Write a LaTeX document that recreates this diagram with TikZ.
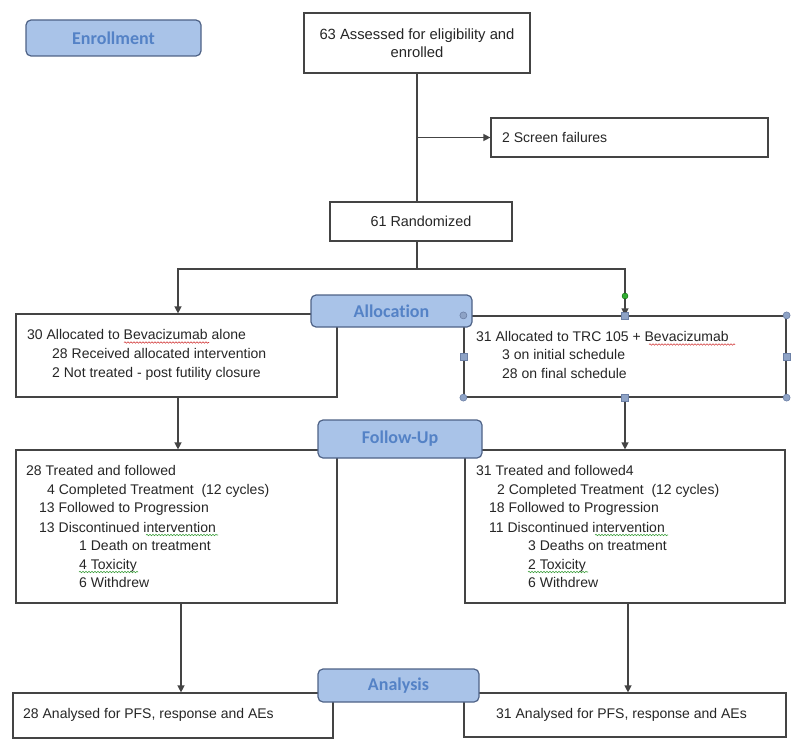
\documentclass[tikz,border=0pt]{standalone}
\usepackage{fontspec}
\setmainfont{Liberation Sans}
\newfontfamily\hdrfont[Ligatures=NoCommon]{Carlito}
\usetikzlibrary{arrows.meta,decorations.pathmorphing}
\definecolor{linec}{HTML}{444444}
\definecolor{hdrfill}{HTML}{A9C3E8}
\definecolor{hdrdraw}{HTML}{4E6286}
\definecolor{hdrtext}{HTML}{5482C6}
\definecolor{hdlfill}{HTML}{8EA3C6}
\definecolor{hdldraw}{HTML}{6C80A6}
\definecolor{spellred}{HTML}{D23A3A}
\definecolor{spellgreen}{HTML}{3CA03C}
\begin{document}
\begin{tikzpicture}[x=1pt,y=-1pt,
  box/.style={draw=linec, line width=1.2pt, fill=white, inner sep=0pt},
  hdr/.style={draw=hdrdraw, line width=1.2pt, fill=hdrfill, rounded corners=5pt, inner sep=0pt,
     font=\hdrfont\bfseries\fontsize{18}{20}\selectfont, text=hdrtext},
  txt/.style={anchor=base west, inner sep=0pt, font=\fontsize{14}{17}\selectfont, text=black!85},
  conn/.style={draw=linec, line width=1.3pt},
  arr/.style={conn, -{Triangle[width=7pt,length=7pt]}},
  squig/.style={decorate, decoration={snake, amplitude=0.7pt, segment length=3pt}, line width=0.6pt},
  hcirc/.style={circle, draw=hdldraw, fill=hdlfill, minimum size=7pt, inner sep=0pt, line width=0.6pt},
  hsq/.style={rectangle, draw=hdldraw, fill=hdlfill, minimum size=7pt, inner sep=0pt, line width=0.6pt}
]
\useasboundingbox (0,0) rectangle (800,752);

% boxes
\node[box, minimum width=226pt, minimum height=60pt, align=center,
      font=\fontsize{14.8}{18}\selectfont, text=black!85] (enr) at (417,43)
      {63 Assessed for eligibility and\\enrolled};
\node[box, minimum width=277pt, minimum height=39pt] (scr) at (629.5,137.5) {};
\node[box, minimum width=182pt, minimum height=39pt, font=\fontsize{14.4}{17}\selectfont, text=black!85] (rnd) at (421,221.5) {61 Randomized};
\node[box, minimum width=321pt, minimum height=83pt] (la) at (176.5,355.5) {};
\node[box, minimum width=322pt, minimum height=81pt] (ra) at (625,356.5) {};
\node[box, minimum width=321pt, minimum height=153pt] (lf) at (176.5,526.5) {};
\node[box, minimum width=320pt, minimum height=153pt] (rf) at (625,526.5) {};
\node[box, minimum width=320pt, minimum height=45pt] (lb) at (173,715.5) {};
\node[box, minimum width=322pt, minimum height=44pt] (rb) at (625,715) {};

% connectors
\coordinate (sp) at (417,269);
\coordinate (spL) at (178,269);
\coordinate (spR) at (625,269);
\draw[conn] (enr.south) -- (enr.south |- rnd.north);
\draw[arr] (enr.south |- scr.west) -- (scr.west);
\draw[conn] (rnd.south -| sp) -- (sp);
\draw[arr] (sp) -- (spL) -- (spL |- la.north);
\draw[arr] (sp) -- (spR) -- (spR |- ra.north);
\draw[arr] (la.south -| spL) -- (spL |- lf.north);
\draw[arr] (ra.south) -- (rf.north);
\draw[arr] ([xshift=4.5pt]lf.south) -- ([xshift=4.5pt]lf.south |- lb.north);
\draw[arr] ([xshift=3pt]rf.south) -- ([xshift=3pt]rf.south |- rb.north);

% headers
\node[hdr, minimum width=175pt, minimum height=36pt] (hEn) at (113.5,38) {Enrollment};
\node[hdr, minimum width=161pt, minimum height=32pt] (hAl) at (391.5,311) {Allocation};
\node[hdr, minimum width=164pt, minimum height=38pt] (hFu) at (400,439) {Follow-Up};
\node[hdr, minimum width=161pt, minimum height=33pt] (hAn) at (398.5,685.5) {Analysis};

% texts
\node[txt] (tscr) at (502,142) {2 Screen failures};

\node[txt] (la1) at (27,339) {30 Allocated to Bevacizumab alone};
\node[txt] (la2) at (52,358) {28 Received allocated intervention};
\node[txt] (la3) at (52,377) {2 Not treated - post futility closure};

\node[txt] (ra1) at (476,341) {31 Allocated to TRC 105 + Bevacizumab};
\node[txt] (ra2) at (502,359) {3 on initial schedule};
\node[txt] (ra3) at (502,378) {28 on final schedule};

\node[txt] (lf1) at (26,475) {28 Treated and followed};
\node[txt] (lf2) at (47,494) {4 Completed Treatment\ \ (12 cycles)};
\node[txt] (lf3) at (39,512) {13 Followed to Progression};
\node[txt] (lf4) at (39,532) {13 Discontinued intervention};
\node[txt] (lf5) at (79,550) {1 Death on treatment};
\node[txt] (lf6) at (79,569) {4 Toxicity};
\node[txt] (lf7) at (79,587) {6 Withdrew};

\node[txt] (rf1) at (476,475) {31 Treated and followed4};
\node[txt] (rf2) at (497,494) {2 Completed Treatment\ \ (12 cycles)};
\node[txt] (rf3) at (489,512) {18 Followed to Progression};
\node[txt] (rf4) at (489,532) {11 Discontinued intervention};
\node[txt] (rf5) at (528,550) {3 Deaths on treatment};
\node[txt] (rf6) at (528,569) {2 Toxicity};
\node[txt] (rf7) at (528,587) {6 Withdrew};

\node[txt] (lb1) at (23,718) {28 Analysed for PFS, response and AEs};
\node[txt] (rb1) at (496,718) {31 Analysed for PFS, response and AEs};

% spell-check squiggles
\draw[squig, spellred] (124,342.5) -- (209,342.5);
\draw[squig, spellred] (649,344.5) -- (735,344.5);
\draw[squig, spellgreen] (146,535) -- (218,535);
\draw[squig, spellgreen] (595,535) -- (668,535);
\draw[squig, spellgreen] (79,572) -- (138,572);
\draw[squig, spellgreen] (528,572) -- (588,572);

% selection handles on the right allocation box
\node[circle, fill=green!60!black!80, draw=green!40!black, minimum size=6pt, inner sep=0pt] (hg) at (625,296) {};
\node[hcirc] (c1) at (ra.north west) {};
\node[hcirc] (c2) at (ra.north east) {};
\node[hcirc] (c3) at (ra.south west) {};
\node[hcirc] (c4) at (ra.south east) {};
\node[hsq] (s1) at (ra.north) {};
\node[hsq] (s2) at (ra.south) {};
\node[hsq] (s3) at (ra.west) {};
\node[hsq] (s4) at (ra.east) {};
\end{tikzpicture}
\end{document}
